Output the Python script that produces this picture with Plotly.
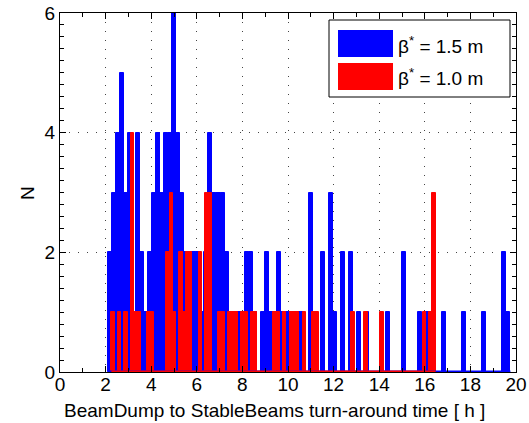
import plotly.graph_objects as go

# ---------------- data (histogram counts, 100 bins per series) ----------------
blue_label = "β<sup>*</sup> = 1.5 m"
red_label = "β<sup>*</sup> = 1.0 m"

blue_start = 2.095     # lower edge of first bin [h]
blue_width = 0.1766    # bin width [h]
blue_counts = [
    2, 3, 4, 5, 3, 4, 1, 4, 2, 1,
    2, 3, 4, 3, 4, 4, 6, 4, 3, 2,
    2, 2, 2, 1, 2, 4, 3, 3, 3, 2,
    1, 1, 1, 1, 2, 2, 1, 0, 1, 2,
    1, 1, 2, 1, 1, 1, 1, 1, 1, 0,
    3, 1, 0, 2, 0, 3, 1, 0, 2, 0,
    2, 0, 1, 0, 1, 0, 0, 0, 0, 1,
    0, 0, 0, 2, 0, 0, 0, 1, 0, 1,
    0, 0, 0, 1, 0, 0, 0, 0, 1, 0,
    0, 0, 0, 1, 0, 0, 0, 0, 2, 1,
]

red_start = 2.253
red_width = 0.1422
red_counts = [
    1, 0, 1, 0, 1, 0, 4, 1, 1, 0,
    0, 1, 1, 0, 0, 0, 0, 2, 3, 1,
    0, 2, 1, 2, 2, 0, 0, 2, 0, 3,
    3, 0, 0, 1, 1, 0, 1, 1, 1, 0,
    1, 1, 0, 1, 1, 0, 0, 0, 0, 0,
    1, 1, 0, 1, 0, 1, 1, 1, 0, 1,
    0, 0, 1, 1, 0, 0, 0, 0, 0, 0,
    0, 0, 0, 0, 1, 0, 0, 0, 1, 0,
    0, 0, 0, 1, 0, 0, 0, 0, 0, 0,
    0, 0, 0, 0, 0, 0, 1, 0, 1, 3,
]

x_ticks = [0, 2, 4, 6, 8, 10, 12, 14, 16, 18, 20]
y_ticks = [0, 2, 4, 6]
x_title = "BeamDump to StableBeams turn-around time [ h ]"
y_title = "N"

BLUE = "#0000ff"
RED = "#ff0000"
FONT = "Liberation Sans, Arial, sans-serif"
FS = 19

blue_x = [blue_start + (i + 0.5) * blue_width for i in range(len(blue_counts))]
red_x = [red_start + (i + 0.5) * red_width for i in range(len(red_counts))]
blue_end = blue_start + len(blue_counts) * blue_width
red_end = red_start + len(red_counts) * red_width

fig = go.Figure()
fig.add_trace(go.Bar(x=blue_x, y=blue_counts, width=blue_width,
                     marker=dict(color=BLUE, line=dict(width=1, color=BLUE)),
                     name=blue_label, showlegend=False))
fig.add_trace(go.Scatter(x=[blue_start, blue_end], y=[0, 0], mode="lines",
                         line=dict(color=BLUE, width=3), showlegend=False,
                         hoverinfo="skip"))
fig.add_trace(go.Bar(x=red_x, y=red_counts, width=red_width,
                     marker=dict(color=RED, line=dict(width=1, color=RED)),
                     name=red_label, showlegend=False))
fig.add_trace(go.Scatter(x=[red_start, red_end], y=[0, 0], mode="lines",
                         line=dict(color=RED, width=3), showlegend=False,
                         hoverinfo="skip"))

W, H = 529, 423
L, R, T, B = 60, 13, 13, 51
pw, ph = W - L - R, H - T - B


def px(xp):
    return (xp - L) / pw


def py(yp):
    return (H - B - yp) / ph


axis_common = dict(
    showline=True, linecolor="black", linewidth=1, mirror="allticks",
    ticks="inside", ticklen=6, tickcolor="black", tickwidth=1,
    showgrid=True, gridcolor="#444444", griddash="1px,8px", gridwidth=1,
    zeroline=False, automargin=False,
    tickfont=dict(family=FONT, size=FS, color="black"),
)

fig.update_layout(
    width=W, height=H, autosize=False,
    margin=dict(l=L, r=R, t=T, b=B, pad=0, autoexpand=False),
    paper_bgcolor="white", plot_bgcolor="white",
    barmode="overlay", bargap=0,
    showlegend=False,
    font=dict(family=FONT, size=FS, color="black"),
    xaxis=dict(range=[0, 20], tickmode="array", tickvals=x_ticks,
               ticklabelstandoff=-5,
               minor=dict(tickmode="linear", tick0=0, dtick=1, ticks="inside",
                          ticklen=4, tickcolor="black", showgrid=False),
               **axis_common),
    yaxis=dict(range=[0, 6], tickmode="array", tickvals=y_ticks,
               minor=dict(tickmode="linear", tick0=0, dtick=0.2, ticks="inside",
                          ticklen=4, tickcolor="black", showgrid=False),
               **axis_common),
)

# axis titles
fig.add_annotation(text=x_title, xref="paper", yref="paper", x=px(274), y=py(410),
                   showarrow=False, xanchor="center", yanchor="middle",
                   font=dict(family=FONT, size=FS, color="black"))
fig.add_annotation(text=y_title, xref="paper", yref="paper", x=px(27), y=py(193),
                   showarrow=False, xanchor="center", yanchor="middle", textangle=-90,
                   font=dict(family=FONT, size=FS, color="black"))

# legend (drawn manually to get the large MATLAB-style swatches)
fig.add_shape(type="rect", xref="paper", yref="paper",
              x0=px(329), x1=px(510), y0=py(20), y1=py(97),
              line=dict(color="black", width=1), fillcolor="white", layer="above")
for (y0, y1, col, lab) in [(30, 57, BLUE, blue_label), (63, 90, RED, red_label)]:
    fig.add_shape(type="rect", xref="paper", yref="paper",
                  x0=px(338), x1=px(393), y0=py(y0), y1=py(y1),
                  line=dict(width=0), fillcolor=col, layer="above")
    fig.add_annotation(text=lab, xref="paper", yref="paper", x=px(396),
                       y=py((y0 + y1) / 2 + 1), showarrow=False, xanchor="left",
                       yanchor="middle", font=dict(family=FONT, size=FS, color="black"))

fig.write_html("out.html",
               config={"displayModeBar": False, "responsive": False},
               post_script="document.body.style.margin='0px';"
                           "document.body.style.padding='0px';"
                           "document.body.style.overflow='hidden';")
